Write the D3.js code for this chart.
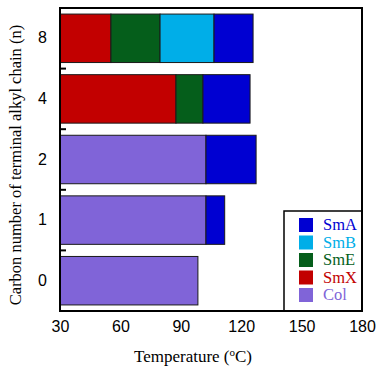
<!DOCTYPE html>
<html>
<head>
<meta charset="utf-8">
<script src="https://cdn.jsdelivr.net/npm/d3@7"></script>
<style>
  body { margin: 0; background: #fff; }
</style>
</head>
<body>
<div id="chart"></div>
<script>
var WIDTH = 377;
var HEIGHT = 369;
var MARGIN = { TOP: 8, BOTTOM: 58, LEFT: 60, RIGHT: 15 };

var width = WIDTH - MARGIN.LEFT - MARGIN.RIGHT;
var height = HEIGHT - MARGIN.TOP - MARGIN.BOTTOM;

// chain lengths, top to bottom
const chains = ['8', '4', '2', '1', '0'];
// phases in stacking order (left to right)
const phases = ['SmX', 'SmE', 'SmB', 'Col', 'SmA'];
const legendPhases = ['SmA', 'SmB', 'SmE', 'SmX', 'Col'];
const phaseColors = ['#C20000', '#055E1B', '#00AEE8', '#8064D8', '#0000D2'];
// phase ranges as [start, end] in deg C, per chain
const rangesSmX = [[30, 55.3], [30, 87.6], null, null, null];
const rangesSmE = [[55.3, 79.7], [87.6, 101], null, null, null];
const rangesSmB = [[79.7, 106.5], null, null, null, null];
const rangesCol = [null, null, [30, 102.5], [30, 102.5], [30, 98.5]];
const rangesSmA = [[106.5, 125.9], [101, 124.4], [102.5, 127.4], [102.5, 111.8], null];
const xTicks = [30, 60, 90, 120, 150, 180];

const allRanges = [rangesSmX, rangesSmE, rangesSmB, rangesCol, rangesSmA];

const color = d3.scaleOrdinal().domain(phases).range(phaseColors);

const svg = d3.select('#chart')
  .append('svg')
    .attr('width', WIDTH)
    .attr('height', HEIGHT);

const container = svg.append('g')
    .attr('transform', `translate(${MARGIN.LEFT}, ${MARGIN.TOP})`);

const x = d3.scaleLinear().domain([30, 180]).range([0, width]);
const y = d3.scaleBand().domain(chains).range([0, height]).paddingInner(0.2).paddingOuter(0.1);

// flatten segments
var segments = [];
phases.forEach((p, i) => {
  allRanges[i].forEach((r, j) => {
    if (r) segments.push({ phase: p, chain: chains[j], t0: r[0], t1: r[1] });
  });
});

container.selectAll('.seg')
  .data(segments)
  .enter()
  .append('rect')
    .attr('class', 'seg')
    .attr('x', d => x(d.t0))
    .attr('y', d => y(d.chain))
    .attr('width', d => x(d.t1) - x(d.t0))
    .attr('height', y.bandwidth())
    .attr('fill', d => color(d.phase))
    .attr('stroke', '#1a1a1a')
    .attr('stroke-width', 1);

// x axis labels
const xAxis = d3.axisBottom(x).tickValues(xTicks).tickSize(0).tickPadding(10);
container.append('g')
    .attr('transform', `translate(0, ${height})`)
    .call(xAxis)
    .call(g => g.select('.domain').remove())
    .selectAll('text')
      .style('font-family', 'Liberation Sans, Arial, sans-serif')
      .style('font-size', '16px')
      .attr('fill', '#000');

// y axis labels
const yAxis = d3.axisLeft(y).tickSize(0).tickPadding(13);
container.append('g')
    .call(yAxis)
    .call(g => g.select('.domain').remove())
    .selectAll('text')
      .style('font-family', 'Liberation Sans, Arial, sans-serif')
      .style('font-size', '16px')
      .attr('fill', '#000');

// inward ticks between categories
const step = y.step();
container.selectAll('.ytick')
  .data(chains.slice(1))
  .enter()
  .append('line')
    .attr('x1', 0)
    .attr('x2', 6)
    .attr('y1', d => y(d) - step * 0.1)
    .attr('y2', d => y(d) - step * 0.1)
    .attr('stroke', '#000')
    .attr('stroke-width', 2);

// legend
const legW = 78, legH = 100;
const legend = container.append('g')
    .attr('transform', `translate(${width - legW}, ${height - legH})`);
legend.append('rect')
    .attr('width', legW)
    .attr('height', legH)
    .attr('fill', '#fff')
    .attr('stroke', '#000')
    .attr('stroke-width', 1.5);
const items = legend.selectAll('.item')
  .data(legendPhases)
  .enter()
  .append('g')
    .attr('transform', (d, i) => `translate(15, ${7 + i * 17.5})`);
items.append('rect')
    .attr('width', 14)
    .attr('height', 14)
    .attr('fill', d => color(d));
items.append('text')
    .attr('x', 24)
    .attr('y', 12)
    .text(d => d)
    .attr('fill', d => color(d))
    .style('font-family', 'Liberation Serif, Times New Roman, serif')
    .style('font-size', '16.5px');

// frame
container.append('rect')
    .attr('width', width)
    .attr('height', height)
    .attr('fill', 'none')
    .attr('stroke', '#000')
    .attr('stroke-width', 2);

// axis titles
const xTitle = svg.append('text')
    .attr('x', 193)
    .attr('y', 362)
    .attr('text-anchor', 'middle')
    .style('font-family', 'Liberation Serif, Times New Roman, serif')
    .style('font-size', '17px');
xTitle.append('tspan').text('Temperature (');
xTitle.append('tspan').text('o').attr('dy', -6).style('font-size', '11px');
xTitle.append('tspan').text('C)').attr('dy', 6);

svg.append('text')
    .attr('transform', `translate(21, 165) rotate(-90)`)
    .attr('text-anchor', 'middle')
    .style('font-family', 'Liberation Serif, Times New Roman, serif')
    .style('font-size', '16.5px')
    .text('Carbon number of terminal alkyl chain (n)');
</script>
</body>
</html>
